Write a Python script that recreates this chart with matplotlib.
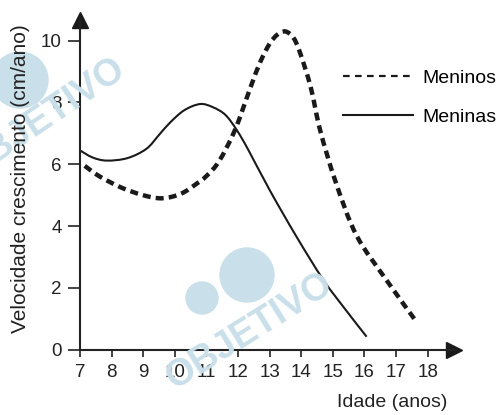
import matplotlib
matplotlib.use("Agg")
import matplotlib.pyplot as plt
from matplotlib.lines import Line2D
from matplotlib.patches import Ellipse, PathPatch
from matplotlib.path import Path
import numpy as np

plt.rcParams['font.family'] = ['Liberation Sans', 'DejaVu Sans']

# Data
meninos_x = [7.15, 7.6, 8.3, 9.0, 9.6, 10.2, 10.7, 11.0, 11.4, 11.9, 12.4, 12.7,
             13.0, 13.25, 13.5, 13.75, 13.95, 14.3, 14.6, 15.1, 15.75, 16.7, 17.65]
meninos_y = [5.95, 5.62, 5.25, 5.0, 4.9, 5.05, 5.38, 5.62, 6.1, 7.1, 8.5, 9.3,
             9.9, 10.2, 10.3, 10.1, 9.65, 8.5, 7.1, 5.4, 3.7, 2.25, 0.9]
meninas_x = [7.0, 7.4, 7.85, 8.5, 9.1, 9.5, 9.85, 10.3, 10.8, 11.2, 11.6, 11.96,
             12.33, 13.0, 13.85, 14.7, 15.4, 16.07]
meninas_y = [6.45, 6.22, 6.12, 6.2, 6.5, 6.95, 7.35, 7.75, 7.95, 7.85, 7.6, 7.11,
             6.46, 5.17, 3.66, 2.26, 1.3, 0.42]
xticks = [7, 8, 9, 10, 11, 12, 13, 14, 15, 16, 17, 18]
yticks = [0, 2, 4, 6, 8, 10]
x_label = "Idade (anos)"
y_label = "Velocidade crescimento (cm/ano)"
labels = ["Meninos", "Meninas"]
watermark = "OBJETIVO"


def smooth_path(xs, ys):
    pts = np.column_stack([xs, ys]).astype(float)
    n = len(pts)
    verts = [pts[0]]
    codes = [Path.MOVETO]
    for i in range(n - 1):
        p0 = pts[max(i - 1, 0)]
        p1 = pts[i]
        p2 = pts[i + 1]
        p3 = pts[min(i + 2, n - 1)]
        verts += [p1 + (p2 - p0) / 6, p2 - (p3 - p1) / 6, p2]
        codes += [Path.CURVE4] * 3
    return Path(verts, codes)


W, H = 497, 415
fig = plt.figure(figsize=(W / 100, H / 100), dpi=100)
ax = fig.add_axes([80 / W, (H - 349.7) / H, 374 / W, 330 / H])
ax.set_xlim(7, 7 + 374 / 31.6)
ax.set_ylim(0, 330 / 30.9)
ax.patch.set_alpha(0)

# watermarks
wm = '#c9dfe9'


def disc(cx, cy, r):
    fig.patches.append(Ellipse((cx / W, 1 - cy / H), 2 * r / W, 2 * r / H,
                               transform=fig.transFigure, color=wm, zorder=0))


fig.text(250 / W, 1 - 331 / H, watermark, color=wm, fontsize=27, fontweight='bold',
         rotation=32, ha='center', va='center', zorder=0)
disc(202, 298, 16)
disc(247, 275, 27)
fig.text(43 / W, 1 - 119 / H, watermark, color=wm, fontsize=27, fontweight='bold',
         rotation=34, ha='center', va='center', zorder=0)
disc(20, 80, 28)

ax.add_patch(PathPatch(smooth_path(meninos_x, meninos_y), fill=False, ec='#1a1a1a',
                       lw=3.2, ls=(0, (1.8, 1.15)), capstyle='butt'))
ax.add_patch(PathPatch(smooth_path(meninas_x, meninas_y), fill=False, ec='#1a1a1a',
                       lw=1.5))

for s in ['top', 'right']:
    ax.spines[s].set_visible(False)
for s in ['left', 'bottom']:
    ax.spines[s].set_color('#222222')
    ax.spines[s].set_linewidth(1.5)

ax.plot(1, 0, '>', color='#1a1a1a', ms=11, transform=ax.transAxes, clip_on=False)
ax.plot(0, 1, '^', color='#1a1a1a', ms=11, transform=ax.transAxes, clip_on=False)

ax.set_xticks(xticks)
ax.set_yticks(yticks)
ax.tick_params(axis='x', direction='out', length=5, width=1.2, pad=5, labelsize=13.5,
               colors='#222222')
ax.tick_params(axis='y', direction='out', length=9, width=1.2, pad=4, labelsize=13.5,
               colors='#222222')

fig.text(447 / W, 1 - 402 / H, x_label, ha='right', va='center', fontsize=14,
         color='#222222')
fig.text(21 / W, 1 - 179 / H, y_label, ha='center', va='center', rotation=90,
         fontsize=15, color='#222222')

handles = [Line2D([], [], color='#1a1a1a', lw=1.6, ls=(0, (3, 2.4))),
           Line2D([], [], color='#1a1a1a', lw=1.5)]
fig.legend(handles, labels, frameon=False, fontsize=14, handlelength=3.6,
           handletextpad=0.46, labelspacing=1.1, loc='upper left',
           borderpad=0, borderaxespad=0,
           bbox_to_anchor=(343 / W, 1 - 69 / H))

fig.savefig("out.png", dpi=100)
